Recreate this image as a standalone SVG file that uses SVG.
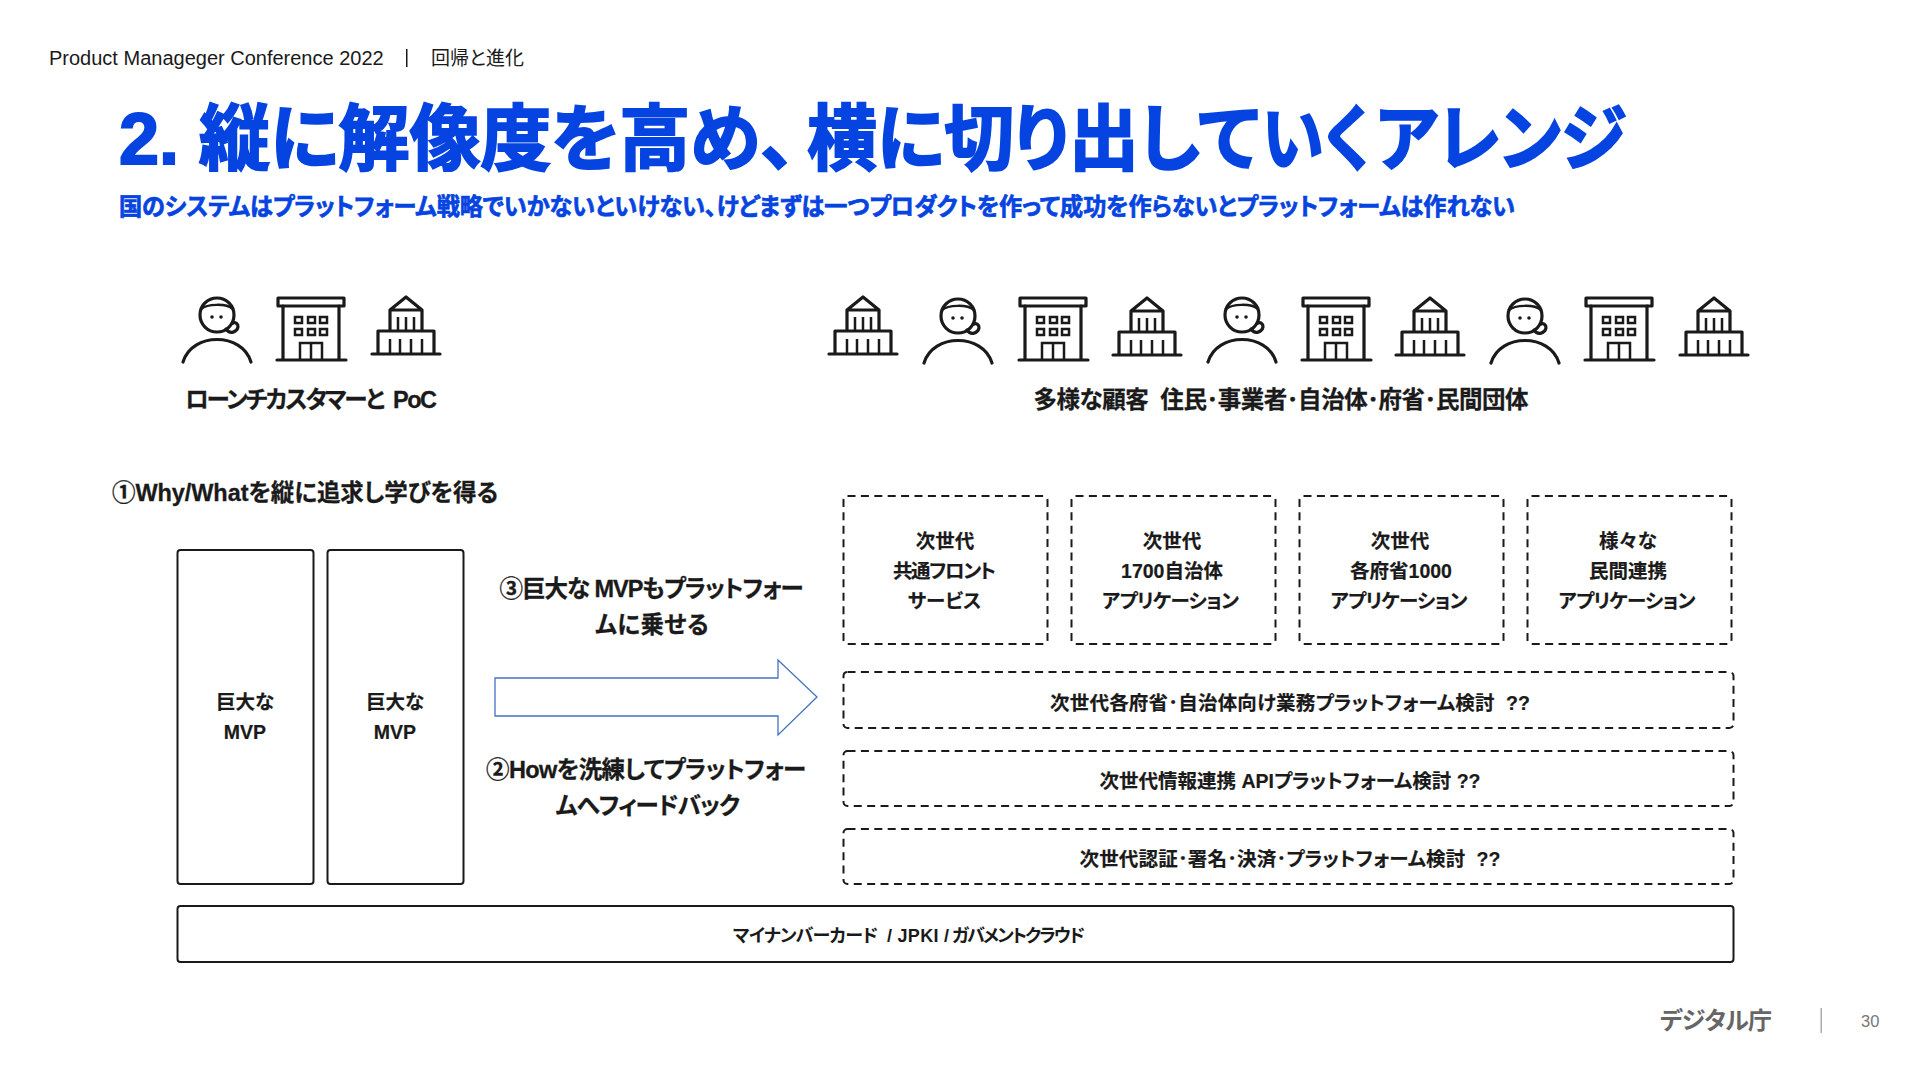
<svg xmlns="http://www.w3.org/2000/svg" width="1920" height="1080" viewBox="0 0 1920 1080">
<style>
text{font-family:"Liberation Sans","Noto Sans CJK JP",sans-serif;fill:#1a1a1a;font-feature-settings:"palt";white-space:pre}
.b{font-weight:700}
.m{text-anchor:middle}
.l{font-size:23.500px;font-weight:700;stroke:#1a1a1a;stroke-width:.3}
.s{font-size:19.500px;font-weight:700;text-anchor:middle;stroke:#1a1a1a;stroke-width:.2}
.t{fill:#0544e0;font-weight:700;stroke:#0544e0}
.d{fill:none;stroke:#1a1a1a;stroke-width:2;stroke-dasharray:8 5.400}
.r{fill:none;stroke:#1a1a1a;stroke-width:2}
.i{fill:none;stroke:#1a1a1a;stroke-width:3.200;stroke-linecap:round;stroke-linejoin:round}
.i2{fill:none;stroke:#1a1a1a;stroke-width:2.500}
</style>
<defs>
<symbol id="person" overflow="visible"><g class="i"><circle cx="0" cy="0" r="17"/><path d="M-16 -6C-10 -11 9 -12 16 -6" stroke-width="2.500"/><path d="M9 14C13 20 20 17 21 12C21 8 18 7 16 8"/><path d="M-34 47C-25 17 25 17 34 47"/></g><circle cx="-5" cy="2" r="1.800" fill="#1a1a1a"/><circle cx="4" cy="2" r="1.800" fill="#1a1a1a"/></symbol>
<symbol id="building" overflow="visible"><g class="i"><rect x="-33" y="-17" width="66" height="8"/><path d="M-28 -9V45M28 -9V45M-34 45H35"/></g><g class="i2"><rect x="-16" y="2" width="7" height="6"/><rect x="-3" y="2" width="7" height="6"/><rect x="9" y="2" width="7" height="6"/><rect x="-16" y="14" width="7" height="6"/><rect x="-3" y="14" width="7" height="6"/><rect x="9" y="14" width="7" height="6"/><path d="M-11 45V28H11V45M0 28V45"/></g></symbol>
<symbol id="gov" overflow="visible"><g class="i"><path d="M-16 14L0 1L16 14ZM-16 14V35M16 14V35M-28 35H28V58M-28 35V58M-34 58H34"/></g><path class="i2" d="M-8 21V35M0 21V35M8 21V35M-16 43V58M-6 43V58M5 43V58M16 43V58"/></symbol>
</defs>
<rect width="1920" height="1080" fill="#fff"/>
<g id="header"><text x="49" y="65" font-size="20">Product Manageger Conference 2022</text><rect x="406" y="49" width="1.500" height="18" fill="#1a1a1a"/><text x="431" y="65" font-size="19" textLength="93">回帰と進化</text></g>
<text id="title" class="t" y="164" font-size="72" stroke-width="2"><tspan x="119">2.</tspan><tspan x="199" textLength="597" lengthAdjust="spacingAndGlyphs">縦に解像度を高め、</tspan><tspan x="807" textLength="452" lengthAdjust="spacingAndGlyphs">横に切り出して</tspan><tspan x="1262" textLength="108" lengthAdjust="spacingAndGlyphs">いく</tspan><tspan x="1376" textLength="250" lengthAdjust="spacingAndGlyphs">アレンジ</tspan></text>
<text id="subtitle" class="t" x="119" y="215" font-size="24" stroke-width=".7" textLength="1396" lengthAdjust="spacingAndGlyphs">国のシステムはプラットフォーム戦略でいかないといけない、けどまずは一つプロダクトを作って成功を作らないとプラットフォームは作れない</text>
<g id="icons-left"><use href="#person" x="217" y="315"/><use href="#building" x="311" y="315"/><use href="#gov" x="406" y="296"/></g>
<g id="icons-right"><use href="#gov" x="863" y="296"/><use href="#person" x="958" y="316"/><use href="#building" x="1053" y="315"/><use href="#gov" x="1147" y="297"/><use href="#person" x="1242" y="315"/><use href="#building" x="1336" y="315"/><use href="#gov" x="1430" y="297"/><use href="#person" x="1525" y="316"/><use href="#building" x="1619" y="315"/><use href="#gov" x="1714" y="297"/></g>
<text id="label-launch" class="l" y="408"><tspan x="185" textLength="200">ローンチカスタマーと</tspan><tspan x="393"> </tspan><tspan x="393" textLength="44">PoC</tspan></text>
<text id="label-customers" class="l m" x="1281" y="408" textLength="495">多様な顧客  住民･事業者･自治体･府省･民間団体</text>
<text id="label-1" class="l" x="112" y="501" textLength="386">①Why/Whatを縦に追求し学びを得る</text>
<g id="mvp1"><rect class="r" x="177.500" y="550" width="136" height="334" rx="3"/><text class="s" x="245" y="709">巨大な</text><text class="s" x="245" y="739">MVP</text></g>
<g id="mvp2"><rect class="r" x="327.500" y="550" width="136" height="334" rx="3"/><text class="s" x="395" y="709">巨大な</text><text class="s" x="395" y="739">MVP</text></g>
<g id="label-3"><text class="l m" x="651.500" y="597" textLength="304">③巨大な MVPもプラットフォー</text><text class="l m" x="652" y="633" textLength="113">ムに乗せる</text></g>
<g id="connectors"><path d="M495 678H778V660L817 697L778 735V716H495Z" fill="#fff" stroke="#4472c4" stroke-width="1.300"/></g>
<g id="label-2"><text class="l m" x="646" y="778" textLength="320">②Howを洗練してプラットフォー</text><text class="l m" x="648" y="814" textLength="184">ムへフィードバック</text></g>
<g id="app1"><rect class="d" x="843.500" y="496" width="204" height="148" rx="4"/><text class="s" x="945" y="548">次世代</text><text class="s" x="944.500" y="578" textLength="103">共通フロント</text><text class="s" x="944.500" y="608">サービス</text></g>
<g id="app2"><rect class="d" x="1071.500" y="496" width="204" height="148" rx="4"/><text class="s" x="1172" y="548">次世代</text><text class="s" x="1172" y="578">1700自治体</text><text class="s" x="1170.500" y="608" textLength="137">アプリケーション</text></g>
<g id="app3"><rect class="d" x="1299.500" y="496" width="204" height="148" rx="4"/><text class="s" x="1400" y="548">次世代</text><text class="s" x="1401" y="578">各府省1000</text><text class="s" x="1399" y="608" textLength="137">アプリケーション</text></g>
<g id="app4"><rect class="d" x="1527.500" y="496" width="204" height="148" rx="4"/><text class="s" x="1628" y="548">様々な</text><text class="s" x="1628" y="578">民間連携</text><text class="s" x="1627" y="608" textLength="137">アプリケーション</text></g>
<g id="pf1"><rect class="d" x="843.500" y="672" width="890" height="56" rx="4"/><text class="s" x="1290" y="710" textLength="480">次世代各府省･自治体向け業務プラットフォーム検討  ??</text></g>
<g id="pf2"><rect class="d" x="843.500" y="751" width="890" height="55" rx="4"/><text class="s" x="1290" y="788" textLength="381">次世代情報連携 APIプラットフォーム検討 ??</text></g>
<g id="pf3"><rect class="d" x="843.500" y="829" width="890" height="55" rx="4"/><text class="s" x="1290" y="866" textLength="421">次世代認証･署名･決済･プラットフォーム検討  ??</text></g>
<g id="base"><rect class="r" x="177.500" y="906" width="1556" height="56" rx="3"/><text class="b" y="942" font-size="18"><tspan x="733" textLength="145">マイナンバーカード</tspan><tspan x="887" textLength="62">/ JPKI /</tspan><tspan x="952" textLength="133">ガバメントクラウド</tspan></text></g>
<g id="footer"><text x="1660" y="1029" font-size="24" class="b" style="fill:#666" textLength="112">デジタル庁</text><rect x="1820.500" y="1008" width="1.500" height="25" fill="#aaa"/><text x="1861" y="1027" font-size="16.500" style="fill:#777">30</text></g>
</svg>
